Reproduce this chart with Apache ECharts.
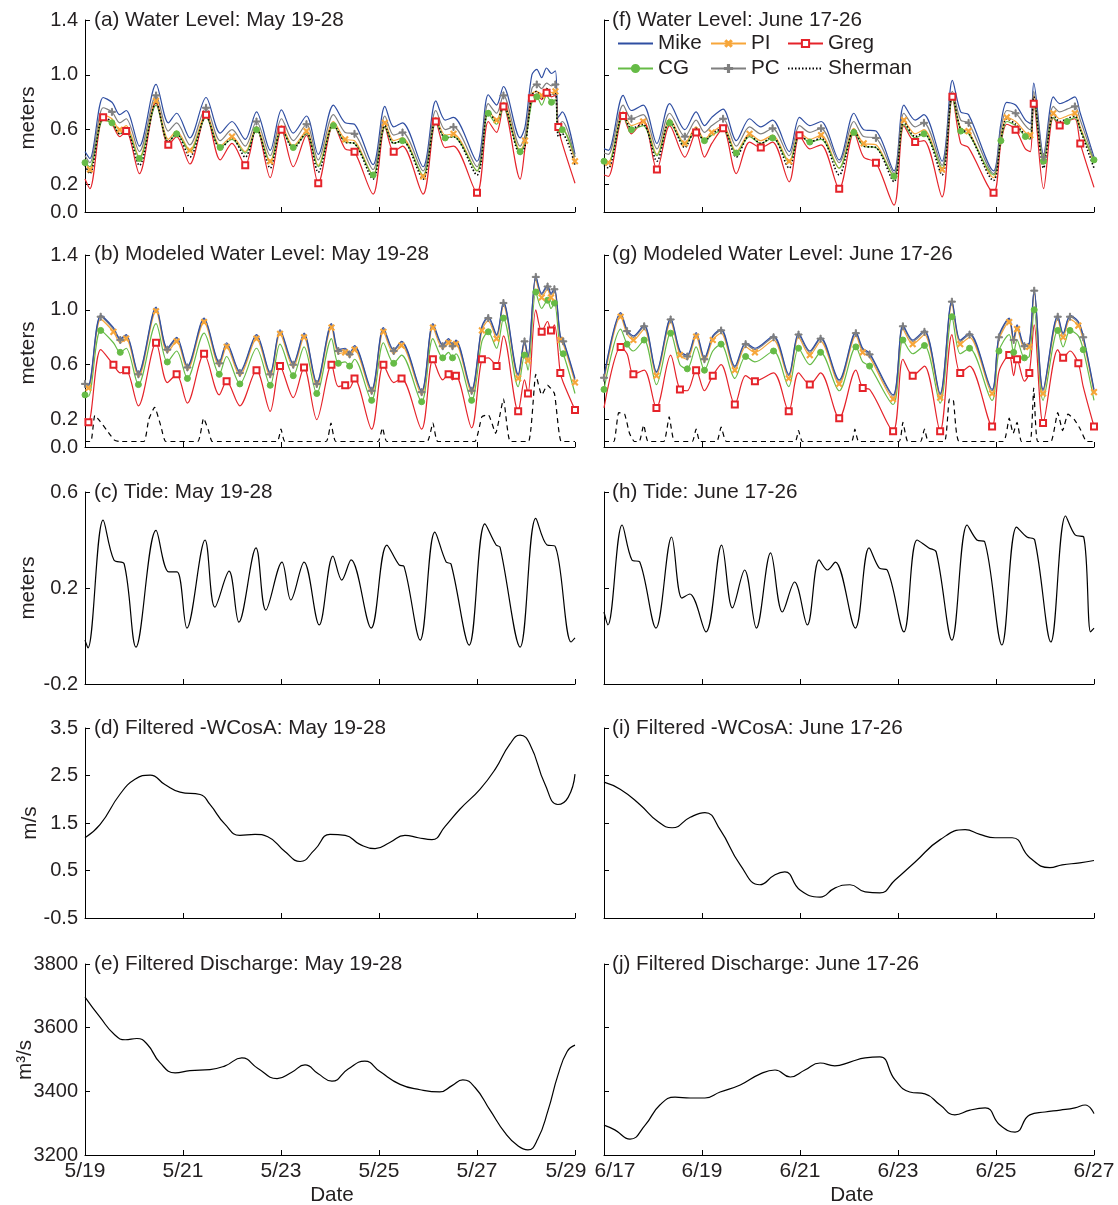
<!DOCTYPE html>
<html><head><meta charset="utf-8">
<script src="https://cdn.jsdelivr.net/npm/echarts@6/dist/echarts.min.js"></script>
<style>html,body{margin:0;padding:0;background:#fff}#c{width:1118px;height:1205px}</style>
</head><body><div id="c"></div>
<script>
// ---------- tick labels ----------
const mayLabels = ['5/19','5/21','5/23','5/25','5/27','5/29'];
const juneLabels = ['6/17','6/19','6/21','6/23','6/25','6/27'];
const wlTicks = [0, 0.2, 0.6, 1.0, 1.4];
const tideTicks = [-0.2, 0.2, 0.6];
const wcosTicks = [-0.5, 0.5, 1.5, 2.5, 3.5];
const qTicks = [3200, 3400, 3600, 3800];

// ---------- (a) observed water level, May (days since 5/19) ----------
const aT = [0,0.1,0.37,0.55,0.71,0.84,1.11,1.45,1.7,1.87,2.14,2.47,2.76,3.0,3.27,3.5,3.78,4.01,4.25,4.52,4.76,5.07,5.31,5.5,5.88,6.12,6.3,6.48,6.9,7.16,7.35,7.52,8.0,8.23,8.4,8.54,8.88,8.98,9.12,9.22,9.32,9.42,9.52,9.6,9.66,9.74,10];
const aMike = [0.44,0.39,0.835,0.80,0.71,0.74,0.48,0.93,0.65,0.72,0.54,0.835,0.575,0.66,0.53,0.73,0.45,0.745,0.575,0.70,0.42,0.78,0.65,0.64,0.345,0.77,0.62,0.65,0.33,0.81,0.67,0.69,0.37,0.855,0.78,0.915,0.54,0.62,1.0,1.04,0.98,1.05,1.01,1.03,0.69,0.73,0.42];
const aPC = [0.41,0.36,0.76,0.73,0.65,0.68,0.44,0.85,0.59,0.65,0.49,0.76,0.52,0.60,0.48,0.66,0.41,0.68,0.52,0.64,0.38,0.71,0.58,0.57,0.31,0.70,0.56,0.58,0.30,0.74,0.60,0.62,0.33,0.79,0.72,0.85,0.48,0.56,0.90,0.93,0.90,0.94,0.92,0.93,0.63,0.66,0.40];
const aPI = [0.38,0.31,0.71,0.68,0.60,0.63,0.40,0.81,0.53,0.59,0.45,0.72,0.48,0.55,0.44,0.62,0.37,0.63,0.48,0.59,0.34,0.66,0.53,0.52,0.27,0.65,0.52,0.54,0.26,0.69,0.56,0.57,0.30,0.74,0.67,0.80,0.45,0.52,0.86,0.88,0.85,0.90,0.87,0.88,0.58,0.61,0.37];
const aCG = [0.36,0.33,0.67,0.65,0.57,0.60,0.39,0.78,0.51,0.57,0.44,0.69,0.47,0.53,0.43,0.60,0.36,0.60,0.47,0.57,0.33,0.63,0.51,0.50,0.27,0.62,0.50,0.52,0.27,0.66,0.54,0.55,0.30,0.72,0.64,0.76,0.44,0.50,0.80,0.84,0.78,0.85,0.80,0.82,0.58,0.60,0.40];
const aSherman = [0.34,0.28,0.69,0.66,0.57,0.60,0.34,0.80,0.51,0.57,0.40,0.70,0.46,0.54,0.40,0.61,0.32,0.61,0.46,0.58,0.29,0.64,0.51,0.50,0.24,0.63,0.50,0.52,0.24,0.67,0.54,0.55,0.27,0.74,0.66,0.78,0.42,0.48,0.85,0.88,0.83,0.90,0.85,0.87,0.55,0.57,0.34];
const aGreg = [0.24,0.17,0.69,0.64,0.55,0.59,0.28,0.80,0.49,0.55,0.35,0.71,0.38,0.50,0.34,0.62,0.25,0.60,0.33,0.56,0.21,0.64,0.46,0.44,0.13,0.62,0.44,0.48,0.13,0.66,0.47,0.48,0.14,0.66,0.58,0.77,0.24,0.47,0.83,0.86,0.82,0.87,0.84,0.85,0.62,0.50,0.21];

// ---------- (f) observed water level, June (days since 6/17) ----------
const fT = [0,0.09,0.39,0.56,0.80,1.08,1.34,1.65,1.88,2.05,2.2,2.43,2.70,2.97,3.2,3.44,3.78,3.99,4.2,4.43,4.80,5.1,5.3,5.55,5.92,6.12,6.35,6.53,6.90,7.11,7.28,7.44,7.95,8.1,8.22,8.4,8.6,8.7,8.77,8.97,9.17,9.3,9.45,9.61,9.72,10];
const fMike = [0.46,0.45,0.85,0.74,0.78,0.50,0.79,0.60,0.73,0.63,0.69,0.75,0.52,0.68,0.62,0.67,0.44,0.69,0.63,0.66,0.38,0.72,0.60,0.59,0.30,0.78,0.67,0.71,0.37,0.96,0.73,0.71,0.30,0.645,0.80,0.78,0.67,0.645,0.94,0.42,0.84,0.79,0.81,0.84,0.72,0.40];
const fPC = [0.43,0.42,0.78,0.68,0.71,0.46,0.72,0.55,0.67,0.58,0.63,0.68,0.48,0.62,0.57,0.61,0.41,0.63,0.58,0.61,0.36,0.66,0.55,0.54,0.28,0.72,0.62,0.65,0.34,0.88,0.67,0.65,0.28,0.60,0.74,0.72,0.63,0.60,0.88,0.40,0.77,0.73,0.75,0.77,0.67,0.38];
const fPI = [0.38,0.36,0.73,0.63,0.66,0.42,0.68,0.50,0.62,0.53,0.58,0.63,0.44,0.57,0.52,0.56,0.37,0.58,0.53,0.56,0.32,0.61,0.50,0.49,0.25,0.67,0.57,0.60,0.31,0.85,0.61,0.59,0.25,0.55,0.69,0.66,0.58,0.56,0.85,0.35,0.72,0.68,0.70,0.72,0.62,0.36];
const fCG = [0.37,0.36,0.70,0.60,0.63,0.41,0.65,0.49,0.59,0.52,0.56,0.60,0.43,0.55,0.50,0.54,0.36,0.56,0.51,0.53,0.32,0.58,0.48,0.47,0.26,0.64,0.54,0.57,0.32,0.83,0.59,0.57,0.27,0.52,0.66,0.63,0.55,0.53,0.80,0.37,0.69,0.65,0.66,0.69,0.60,0.38];
const fSherman = [0.34,0.32,0.72,0.61,0.64,0.37,0.67,0.47,0.61,0.51,0.57,0.61,0.40,0.56,0.50,0.55,0.32,0.57,0.51,0.54,0.27,0.60,0.48,0.47,0.22,0.66,0.55,0.58,0.27,0.86,0.60,0.58,0.23,0.53,0.68,0.64,0.56,0.54,0.84,0.32,0.71,0.66,0.68,0.70,0.60,0.32];
const fGreg = [0.27,0.26,0.70,0.57,0.67,0.31,0.63,0.40,0.58,0.40,0.50,0.61,0.28,0.51,0.47,0.51,0.22,0.56,0.46,0.49,0.17,0.58,0.40,0.36,0.05,0.63,0.51,0.52,0.11,0.84,0.50,0.47,0.14,0.50,0.64,0.60,0.46,0.44,0.79,0.17,0.69,0.63,0.66,0.68,0.50,0.18];

// ---------- (b) modeled water level, May ----------
const bT = [0,0.07,0.32,0.58,0.72,0.84,1.09,1.45,1.68,1.87,2.09,2.43,2.74,2.89,3.16,3.5,3.78,3.98,4.25,4.47,4.73,5.03,5.17,5.31,5.4,5.5,5.85,6.09,6.3,6.46,6.87,7.1,7.3,7.42,7.5,7.57,7.89,8.1,8.23,8.4,8.54,8.84,8.97,9.04,9.2,9.32,9.44,9.51,9.58,9.7,9.76,10];
const bMike = [0.467,0.455,0.96,0.87,0.79,0.82,0.54,1.02,0.72,0.80,0.59,0.94,0.62,0.76,0.55,0.82,0.54,0.855,0.61,0.83,0.47,0.90,0.71,0.72,0.685,0.74,0.42,0.87,0.71,0.77,0.41,0.90,0.745,0.79,0.745,0.78,0.42,0.88,0.95,0.82,1.06,0.53,0.78,0.66,1.25,1.12,1.18,1.12,1.16,0.81,0.78,0.50];
const bPC = [0.46,0.445,0.95,0.86,0.78,0.81,0.53,1.01,0.71,0.79,0.58,0.93,0.61,0.75,0.54,0.81,0.53,0.845,0.60,0.82,0.46,0.89,0.70,0.71,0.675,0.73,0.41,0.86,0.70,0.76,0.40,0.89,0.735,0.78,0.735,0.77,0.41,0.87,0.94,0.81,1.05,0.52,0.77,0.65,1.24,1.11,1.17,1.11,1.15,0.80,0.77,0.49];
const bPI = [0.44,0.43,0.93,0.84,0.76,0.79,0.51,0.99,0.69,0.77,0.56,0.91,0.59,0.73,0.52,0.79,0.51,0.825,0.58,0.80,0.44,0.87,0.68,0.69,0.655,0.71,0.39,0.84,0.68,0.74,0.38,0.87,0.715,0.76,0.715,0.75,0.39,0.85,0.92,0.79,1.03,0.50,0.75,0.63,1.22,1.09,1.15,1.09,1.13,0.78,0.75,0.47];
const bCG = [0.38,0.37,0.85,0.76,0.69,0.72,0.455,0.90,0.62,0.70,0.50,0.83,0.53,0.66,0.46,0.72,0.45,0.75,0.52,0.73,0.39,0.79,0.61,0.62,0.59,0.64,0.34,0.76,0.61,0.67,0.33,0.79,0.65,0.69,0.65,0.68,0.34,0.77,0.84,0.72,0.94,0.44,0.67,0.56,1.13,1.01,1.07,1.01,1.05,0.70,0.68,0.39];
const bGreg = [0.21,0.18,0.71,0.60,0.54,0.56,0.30,0.76,0.47,0.53,0.32,0.68,0.38,0.48,0.30,0.56,0.26,0.59,0.36,0.58,0.20,0.60,0.44,0.45,0.43,0.50,0.13,0.60,0.47,0.50,0.13,0.64,0.49,0.53,0.49,0.52,0.14,0.64,0.65,0.59,0.81,0.26,0.49,0.39,1.0,0.84,0.915,0.85,0.89,0.54,0.47,0.27];
const bShermanT = [0,0.12,0.2,0.3,0.45,0.6,0.7,1.2,1.3,1.42,1.55,1.65,2.3,2.42,2.52,2.6,3.92,4.0,4.08,4.92,5.02,5.12,5.98,6.07,6.16,6.98,7.1,7.2,7.95,8.1,8.23,8.38,8.54,8.68,9.05,9.2,9.32,9.44,9.58,9.72,10];
const bSherman = [0.04,0.04,0.23,0.19,0.12,0.05,0.04,0.04,0.20,0.29,0.15,0.04,0.04,0.21,0.12,0.04,0.04,0.13,0.04,0.04,0.175,0.04,0.04,0.14,0.04,0.04,0.175,0.04,0.04,0.22,0.235,0.10,0.35,0.04,0.04,0.53,0.38,0.45,0.39,0.04,0.04];

// ---------- (g) modeled water level, June ----------
const gT = [0,0.34,0.47,0.6,0.82,1.07,1.36,1.55,1.7,1.88,2.05,2.22,2.39,2.67,2.89,3.08,3.46,3.77,3.97,4.2,4.42,4.8,5.14,5.28,5.42,5.9,6.1,6.3,6.54,6.86,7.1,7.27,7.46,7.92,8.06,8.27,8.36,8.43,8.58,8.68,8.78,8.96,9.26,9.37,9.51,9.68,9.78,10];
const gMike = [0.515,0.98,0.855,0.81,0.89,0.55,0.94,0.70,0.67,0.835,0.65,0.81,0.86,0.59,0.76,0.72,0.81,0.53,0.83,0.70,0.80,0.49,0.84,0.72,0.685,0.38,0.89,0.78,0.85,0.39,1.07,0.78,0.83,0.42,0.81,0.94,0.79,0.89,0.745,0.76,1.15,0.42,0.96,0.83,0.96,0.915,0.81,0.42];
const gPC = [0.505,0.97,0.845,0.80,0.88,0.54,0.93,0.69,0.66,0.825,0.64,0.80,0.85,0.58,0.75,0.71,0.80,0.52,0.82,0.69,0.79,0.48,0.83,0.71,0.675,0.37,0.88,0.77,0.84,0.38,1.06,0.77,0.82,0.41,0.80,0.93,0.78,0.88,0.735,0.75,1.14,0.41,0.95,0.82,0.95,0.905,0.80,0.41];
const gPI = [0.485,0.95,0.825,0.78,0.86,0.52,0.91,0.67,0.64,0.805,0.62,0.78,0.83,0.56,0.73,0.69,0.78,0.50,0.80,0.67,0.77,0.46,0.81,0.69,0.655,0.35,0.86,0.75,0.82,0.36,1.04,0.75,0.80,0.39,0.78,0.91,0.76,0.86,0.715,0.73,1.12,0.39,0.93,0.80,0.93,0.885,0.78,0.40];
const gCG = [0.42,0.86,0.75,0.70,0.78,0.455,0.83,0.60,0.57,0.73,0.56,0.70,0.75,0.50,0.66,0.62,0.70,0.44,0.72,0.60,0.69,0.41,0.73,0.62,0.59,0.31,0.78,0.68,0.74,0.32,0.95,0.68,0.72,0.34,0.70,0.82,0.69,0.78,0.65,0.66,1.0,0.34,0.85,0.73,0.85,0.81,0.71,0.34];
const gGreg = [0.285,0.73,0.68,0.53,0.56,0.285,0.67,0.42,0.41,0.56,0.41,0.52,0.60,0.31,0.52,0.48,0.54,0.26,0.54,0.455,0.54,0.21,0.56,0.43,0.42,0.115,0.64,0.52,0.59,0.115,0.82,0.54,0.59,0.15,0.55,0.67,0.52,0.64,0.48,0.54,0.89,0.175,0.71,0.65,0.70,0.61,0.44,0.15];
const gShermanT = [0,0.2,0.3,0.42,0.52,0.62,0.72,0.81,0.9,1.22,1.33,1.44,1.8,1.88,1.96,2.3,2.39,2.5,3.9,3.97,4.05,5.05,5.12,5.2,6.02,6.1,6.2,6.46,6.54,6.62,6.95,7.05,7.13,7.25,8.15,8.27,8.35,8.43,8.52,8.7,8.77,8.85,9.12,9.26,9.36,9.47,9.6,9.72,9.85,10];
const gSherman = [0.04,0.04,0.25,0.24,0.10,0.04,0.04,0.16,0.04,0.04,0.22,0.04,0.04,0.13,0.04,0.04,0.145,0.04,0.04,0.12,0.04,0.04,0.13,0.04,0.04,0.18,0.04,0.04,0.13,0.04,0.04,0.35,0.34,0.04,0.04,0.21,0.10,0.18,0.04,0.04,0.43,0.04,0.04,0.25,0.12,0.24,0.20,0.13,0.04,0.04];

// ---------- (c)/(h) tide ----------
const cT = [0,0.06,0.37,0.59,0.80,1.04,1.45,1.71,1.88,2.08,2.45,2.65,2.94,3.14,3.49,3.69,4.02,4.2,4.47,4.78,5.06,5.24,5.43,5.84,6.16,6.41,6.51,6.84,7.14,7.37,7.47,7.84,8.16,8.39,8.47,8.88,9.2,9.43,9.59,9.92,10];
const cTide = [-0.017,-0.05,0.483,0.317,0.30,-0.046,0.44,0.267,0.267,0.033,0.40,0.12,0.27,0.058,0.367,0.108,0.308,0.15,0.308,0.046,0.333,0.233,0.317,0.033,0.379,0.296,0.29,-0.017,0.433,0.308,0.30,-0.038,0.467,0.379,0.37,-0.046,0.49,0.379,0.375,-0.025,-0.008];
const hT = [0,0.08,0.37,0.57,0.73,1.06,1.38,1.59,1.75,2.08,2.40,2.62,2.87,3.11,3.40,3.64,3.89,4.15,4.39,4.56,4.72,5.13,5.41,5.62,5.78,6.12,6.39,6.63,6.78,7.10,7.41,7.61,7.77,8.12,8.42,8.63,8.79,9.12,9.42,9.62,9.79,9.93,10];
const hTide = [0.10,0.046,0.4625,0.317,0.308,0.033,0.4125,0.158,0.175,0.017,0.379,0.117,0.275,0.033,0.346,0.10,0.225,0.046,0.317,0.275,0.308,0.033,0.367,0.283,0.275,0.017,0.40,0.367,0.35,-0.017,0.4625,0.40,0.392,-0.0375,0.454,0.4125,0.40,-0.025,0.50,0.42,0.4125,0.017,0.033];

// ---------- (d)/(i) filtered -WCosA ----------
const dT = [0,0.31,0.71,1.02,1.33,1.63,1.94,2.35,2.55,2.86,3.16,3.47,3.73,4.08,4.39,4.69,5.0,5.31,5.61,5.92,6.22,6.53,6.8,7.08,7.35,7.65,8.06,8.37,8.67,8.88,9.08,9.39,9.65,9.86,10];
const dWcos = [1.19,1.47,2.10,2.42,2.51,2.31,2.15,2.10,1.89,1.47,1.24,1.26,1.21,0.90,0.69,0.94,1.26,1.24,1.05,0.96,1.09,1.24,1.19,1.15,1.43,1.79,2.21,2.63,3.16,3.35,3.16,2.31,1.89,2.04,2.53];
const iT = [0,0.33,0.73,1.10,1.39,1.76,2.06,2.37,2.78,3.18,3.49,3.69,4.0,4.41,4.71,5.02,5.33,5.63,5.94,6.35,6.86,7.37,7.67,7.98,8.33,8.69,9.10,9.35,9.71,10];
const iWcos = [2.36,2.21,1.89,1.53,1.40,1.62,1.72,1.36,0.62,0.20,0.41,0.47,0.09,-0.06,0.13,0.20,0.05,0.03,0.30,0.68,1.15,1.36,1.26,1.19,1.19,0.77,0.56,0.62,0.66,0.71];

// ---------- (e)/(j) filtered discharge ----------
const eT = [0,0.31,0.61,0.82,1.06,1.27,1.53,1.84,2.14,2.55,2.86,3.2,3.53,3.92,4.22,4.49,4.76,5.04,5.37,5.71,6.02,6.43,6.84,7.24,7.49,7.71,7.96,8.27,8.57,8.84,9.04,9.24,9.45,9.65,9.84,10];
const eQ = [3696,3632,3577,3562,3566,3548,3490,3458,3465,3468,3480,3505,3472,3440,3460,3483,3455,3432,3470,3495,3462,3422,3405,3398,3418,3436,3412,3340,3270,3228,3216,3250,3340,3450,3525,3545];
const jT = [0,0.22,0.53,0.84,1.14,1.45,1.76,2.06,2.37,2.78,3.18,3.49,3.8,4.1,4.41,4.71,5.02,5.33,5.63,5.94,6.24,6.55,6.86,7.16,7.47,7.78,8.08,8.39,8.69,9.0,9.31,9.61,9.82,10];
const jQ = [3294,3279,3250,3294,3357,3382,3379,3379,3398,3420,3454,3467,3445,3467,3489,3480,3492,3505,3508,3436,3398,3392,3357,3326,3341,3348,3294,3272,3326,3335,3341,3348,3357,3330];

// ================= chart construction =================
const FONT = '"Liberation Sans", Arial, Helvetica, sans-serif';
const TXT = '#231f20';
const PLUS = 'path://M4.2,0H5.8V4.2H10V5.8H5.8V10H4.2V5.8H0V4.2H4.2Z';
const LEFT = 85, RIGHT = 604, W = 490;
const rows = [{top:20,h:192},{top:255,h:192},{top:492,h:192},{top:728,h:190},{top:964,h:191}];
const yCfg = [
  {min:0, max:1.4, ticks:wlTicks, fmt:v=>v.toFixed(1)},
  {min:0, max:1.4, ticks:wlTicks, fmt:v=>v.toFixed(1)},
  {min:-0.2, max:0.6, ticks:tideTicks, fmt:v=>v.toFixed(1)},
  {min:-0.5, max:3.5, ticks:wcosTicks, fmt:v=>v.toFixed(1)},
  {min:3200, max:3800, ticks:qTicks, fmt:v=>String(Math.round(v))}
];

const grid = [], xAxis = [], yAxis = [];
rows.forEach((r, ri) => {
  [0,1].forEach(col => {
    const gi = ri*2 + col;
    grid.push({left: col ? RIGHT : LEFT, top: r.top, width: W, height: r.h, containLabel:false});
    const labels = col ? juneLabels : mayLabels;
    xAxis.push({
      type:'value', gridIndex:gi, min:0, max:10, interval:2,
      axisLine:{show:true, onZero:false, lineStyle:{color:'#000', width:1}},
      axisTick:{show:true, inside:true, length:5, lineStyle:{color:'#000'}},
      splitLine:{show:false},
      axisLabel:{
        show: ri === 4, color:TXT, fontSize:21, fontFamily:FONT, margin:6,
        showMinLabel:true, showMaxLabel:true,
        formatter: v => {
          const i = Math.round(v/2); const s = labels[i];
          if (!col && i === 5) return '{r|' + s + '}';
          if (col && i === 0) return '{l|' + s + '}';
          return s;
        },
        rich:{
          r:{fontSize:21, fontFamily:FONT, color:TXT, padding:[0,18,0,0]},
          l:{fontSize:21, fontFamily:FONT, color:TXT, padding:[0,0,0,22]}
        }
      }
    });
    const yc = yCfg[ri];
    yAxis.push({
      type:'value', gridIndex:gi, min:yc.min, max:yc.max,
      axisLine:{show:true, onZero:false, lineStyle:{color:'#000', width:1}},
      axisTick:{show:true, inside:true, length:5, customValues:yc.ticks, lineStyle:{color:'#000'}},
      splitLine:{show:false},
      axisLabel:{show: col === 0, customValues:yc.ticks, color:TXT, fontSize:20, fontFamily:FONT, margin:7, formatter:yc.fmt}
    });
  });
});

const STY = {
  Mike:   {color:'#2f4ea2', symbol:'none'},
  PI:     {color:'#f7a63a', symbol:PLUS, rotate:45, size:7},
  Greg:   {color:'#e5232a', symbol:'emptyRect', size:6},
  CG:     {color:'#66bb46', symbol:'circle', size:6},
  PC:     {color:'#7f7f7f', symbol:PLUS, size:7},
  Sherman:{color:'#000000', symbol:'none'}
};

function pairs(t, v, step, off) {
  return t.map((x, i) => (step && i % step === off) ? [x, v[i]] : {value:[x, v[i]], symbol:'none'});
}
function wl(gi, name, t, v, step, off, extra) {
  const s = STY[name];
  const hasSym = s.symbol !== 'none';
  return Object.assign({
    type:'line', name, xAxisIndex:gi, yAxisIndex:gi,
    data: hasSym ? pairs(t, v, step, off) : t.map((x,i)=>[x, v[i]]),
    smooth:0.3, symbol:s.symbol, symbolSize:s.size || 6, symbolRotate:s.rotate || 0,
    showSymbol:hasSym, showAllSymbol:true,
    lineStyle:{color:s.color, width:1.2},
    itemStyle:{color:s.color, borderColor:s.color, borderWidth:1},
    emphasis:{disabled:true}, animation:false, silent:true
  }, extra || {});
}
function blk(gi, t, v, extra) {
  return Object.assign({
    type:'line', xAxisIndex:gi, yAxisIndex:gi, data:t.map((x,i)=>[x, v[i]]),
    smooth:0.35, symbol:'none', lineStyle:{color:'#000', width:1.2},
    emphasis:{disabled:true}, animation:false, silent:true
  }, extra || {});
}

const series = [];
// (a)
series.push(wl(0,'Mike',aT,aMike));
series.push(wl(0,'PI',aT,aPI,3,1));
series.push(wl(0,'Greg',aT,aGreg,3,2));
series.push(wl(0,'CG',aT,aCG,3,0));
series.push(wl(0,'PC',aT,aPC,4,3));
series.push(wl(0,'Sherman',aT,aSherman,0,0,{lineStyle:{color:'#000',width:1.6,type:[1.5,2]}}));
// (f)
series.push(wl(1,'Mike',fT,fMike));
series.push(wl(1,'PI',fT,fPI,3,1));
series.push(wl(1,'Greg',fT,fGreg,3,2));
series.push(wl(1,'CG',fT,fCG,3,0));
series.push(wl(1,'PC',fT,fPC,4,3));
series.push(wl(1,'Sherman',fT,fSherman,0,0,{lineStyle:{color:'#000',width:1.6,type:[1.5,2]}}));
// (b)
series.push(wl(2,'Sherman',bShermanT,bSherman,0,0,{smooth:0.15,lineStyle:{color:'#000',width:1.2,type:[5,4]}}));
series.push(wl(2,'Greg',bT,bGreg,2,1));
series.push(wl(2,'CG',bT,bCG,2,0));
series.push(wl(2,'PI',bT,bPI,2,1));
series.push(wl(2,'PC',bT,bPC,2,0));
series.push(wl(2,'Mike',bT,bMike));
// (g)
series.push(wl(3,'Sherman',gShermanT,gSherman,0,0,{smooth:0.15,lineStyle:{color:'#000',width:1.2,type:[5,4]}}));
series.push(wl(3,'Greg',gT,gGreg,2,1));
series.push(wl(3,'CG',gT,gCG,2,0));
series.push(wl(3,'PI',gT,gPI,2,1));
series.push(wl(3,'PC',gT,gPC,2,0));
series.push(wl(3,'Mike',gT,gMike));
// (c)(h)
series.push(blk(4,cT,cTide));
series.push(blk(5,hT,hTide));
// (d)(i)
series.push(blk(6,dT,dWcos,{smooth:0.5}));
series.push(blk(7,iT,iWcos,{smooth:0.5}));
// (e)(j)
series.push(blk(8,eT,eQ,{smooth:0.5}));
series.push(blk(9,jT,jQ,{smooth:0.5}));

const titles = [
  ['(a) Water Level: May 19-28', 94, 20], ['(f) Water Level: June 17-26', 612, 20],
  ['(b) Modeled Water Level: May 19-28', 94, 254], ['(g) Modeled Water Level: June 17-26', 612, 254],
  ['(c) Tide: May 19-28', 94, 492], ['(h) Tide: June 17-26', 612, 492],
  ['(d) Filtered -WCosA: May 19-28', 94, 728], ['(i) Filtered -WCosA: June 17-26', 612, 728],
  ['(e) Filtered Discharge: May 19-28', 94, 964], ['(j) Filtered Discharge: June 17-26', 612, 964]
];
const ynames = [['meters',28,118],['meters',28,353],['meters',28,588],['m/s',30,823],['m³/s',25,1060]];
const graphic = [];
titles.forEach(t => graphic.push({type:'text', x:t[1], y:t[2], silent:true,
  style:{text:t[0], fill:TXT, font:'20.7px ' + FONT, textAlign:'left', textVerticalAlign:'middle', align:'left', verticalAlign:'middle'}}));
ynames.forEach(t => graphic.push({type:'text', x:t[1], y:t[2], rotation:Math.PI/2, silent:true,
  style:{text:t[0], fill:TXT, font:'20.7px ' + FONT, textAlign:'center', textVerticalAlign:'middle', align:'center', verticalAlign:'middle'}}));
[[332,1195],[852,1195]].forEach(p => graphic.push({type:'text', x:p[0], y:p[1], silent:true,
  style:{text:'Date', fill:TXT, font:'20.7px ' + FONT, textAlign:'center', textVerticalAlign:'middle', align:'center', verticalAlign:'middle'}}));

const hideSym = {opacity:0};
const legBase = {orient:'vertical', top:33, padding:0, itemWidth:35, itemHeight:9, itemGap:4, selectedMode:false,
  textStyle:{fontSize:20.7, fontFamily:FONT, color:TXT}};
const legend = [
  Object.assign({}, legBase, {left:617, data:[{name:'Mike', itemStyle:hideSym}, 'CG']}),
  Object.assign({}, legBase, {left:710, data:['PI','PC']}),
  Object.assign({}, legBase, {left:787, data:['Greg', {name:'Sherman', itemStyle:hideSym}]})
];

const chart = echarts.init(document.getElementById('c'), null, {renderer:'canvas'});
chart.setOption({backgroundColor:'#fff', animation:false, grid, xAxis, yAxis, series, graphic, legend, tooltip:{show:false}});
</script></body></html>
